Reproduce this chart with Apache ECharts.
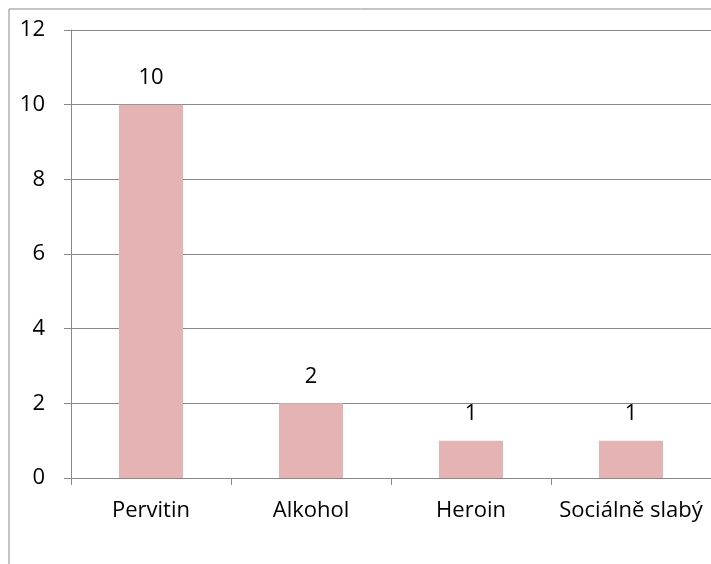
<!DOCTYPE html>
<html>
<head>
<meta charset="utf-8">
<script src="https://cdn.jsdelivr.net/npm/echarts@6/dist/echarts.min.js"></script>
<style>
    html, body { margin: 0; padding: 0; background: #fff; }
    #chart { width: 711px; height: 564px; }
</style>
</head>
<body>
<div id="chart"></div>
<script>
// data
var categories = ['Pervitin', 'Alkohol', 'Heroin', 'Sociálně slabý'];
var values = [10, 2, 1, 1];
var yTicks = [0, 2, 4, 6, 8, 10, 12];

var fontFamily = '"Open Sans", sans-serif';
var lineColor = '#888888';

var myChart = echarts.init(document.getElementById('chart'));
myChart.setOption({
    animation: false,
    graphic: [
        {   // outer frame of the chart area (runs out of the picture right and bottom)
            type: 'rect',
            shape: { x: 9, y: 9, width: 900, height: 900 },
            style: { fill: 'none', stroke: lineColor, lineWidth: 1 },
            silent: true
        }
    ],
    grid: {
        left: 71,
        top: 30,
        width: 642,
        height: 448
    },
    xAxis: {
        type: 'category',
        data: categories,
        axisLine: { lineStyle: { color: lineColor, width: 1 } },
        axisTick: { show: true, interval: 0, length: 7, lineStyle: { color: lineColor } },
        axisLabel: { interval: 0, hideOverlap: false, color: '#000', fontSize: 22, fontFamily: fontFamily, margin: 22 }
    },
    yAxis: {
        type: 'value',
        min: yTicks[0],
        max: yTicks[yTicks.length - 1],
        interval: 2,
        axisLine: { show: true, lineStyle: { color: lineColor, width: 1 } },
        axisTick: { show: true, length: 7, lineStyle: { color: lineColor } },
        splitLine: { lineStyle: { color: lineColor, width: 1 } },
        axisLabel: { color: '#000', fontSize: 22, fontFamily: fontFamily, margin: 26 }
    },
    series: [
        {
            type: 'bar',
            data: values,
            barWidth: 64,
            itemStyle: { color: '#E6B3B4' },
            label: {
                show: true,
                position: 'top',
                distance: 16,
                color: '#000',
                fontSize: 22,
                fontFamily: fontFamily
            }
        }
    ]
});
</script>
</body>
</html>
